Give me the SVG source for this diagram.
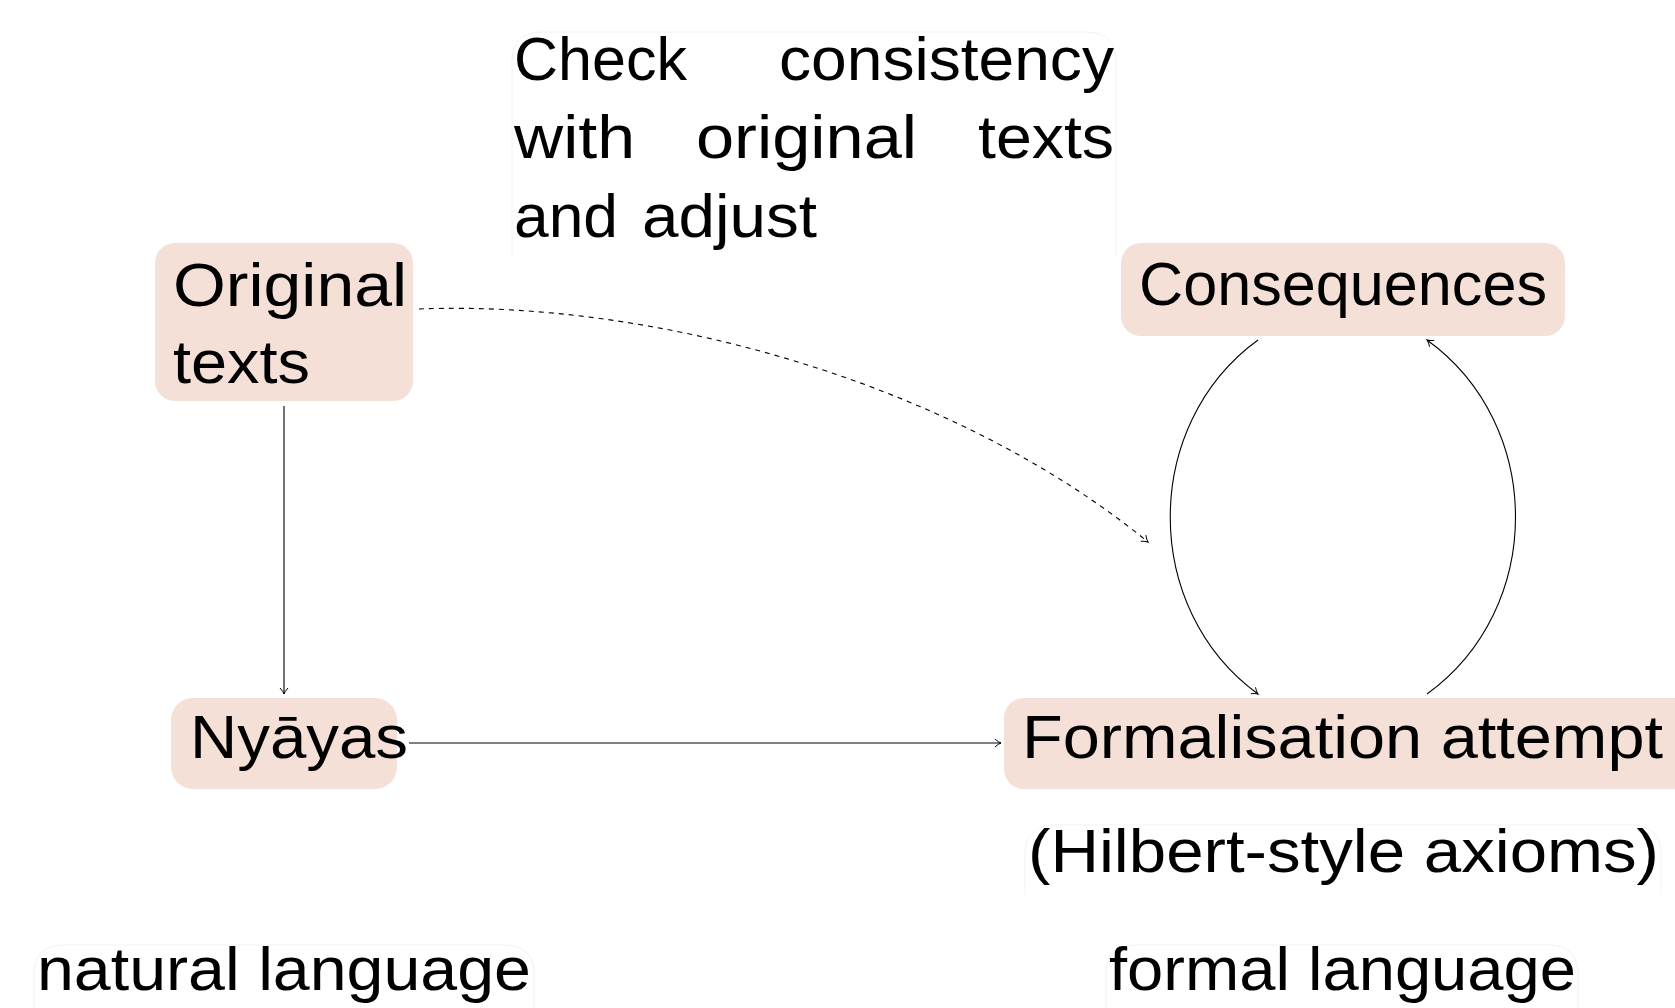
<svg xmlns="http://www.w3.org/2000/svg" width="1675" height="1008" viewBox="0 0 1675 1008">
<style>
  .box { fill: #f5e0d7; }
  .faint { fill: none; stroke: #f2f2f2; stroke-width: 1; }
  .t { font-family: "Liberation Sans", Arial, sans-serif; font-size: 62px; fill: #000; }
  .edge { fill: none; stroke: #000; stroke-width: 1.1; }
  .dash { stroke-dasharray: 5 5; }
</style>
<defs>
  <marker id="arr" markerUnits="userSpaceOnUse" markerWidth="14" markerHeight="14" viewBox="-7 -7 14 14" refX="0" refY="0" orient="auto">
    <path d="M-6,-4 Q-2.5,-0.7 0,0 Q-2.5,0.7 -6,4" fill="none" stroke="#000" stroke-width="1"/>
  </marker>
</defs>
<rect width="1675" height="1008" fill="#fff"/>

<g id="check-note">
  <path class="faint" d="M512,256 L512,62 Q512,32 542,32 L1086,32 Q1116,32 1116,62 L1116,256"/>
  <text class="t" x="514" y="80" textLength="173" lengthAdjust="spacingAndGlyphs">Check</text>
  <text class="t" x="779" y="80" textLength="335" lengthAdjust="spacingAndGlyphs">consistency</text>
  <text class="t" x="514" y="158" textLength="121" lengthAdjust="spacingAndGlyphs">with</text>
  <text class="t" x="696" y="158" textLength="221" lengthAdjust="spacingAndGlyphs">original</text>
  <text class="t" x="978" y="158" textLength="136" lengthAdjust="spacingAndGlyphs">texts</text>
  <text class="t" x="514" y="237" textLength="104" lengthAdjust="spacingAndGlyphs">and</text>
  <text class="t" x="642" y="237" textLength="175" lengthAdjust="spacingAndGlyphs">adjust</text>
</g>

<g id="original-texts">
  <rect class="box" x="155" y="243" width="258" height="158" rx="20"/>
  <text class="t" x="173" y="306" textLength="234" lengthAdjust="spacingAndGlyphs">Original</text>
  <text class="t" x="173" y="383" textLength="137" lengthAdjust="spacingAndGlyphs">texts</text>
</g>

<g id="consequences">
  <rect class="box" x="1121" y="243" width="444" height="93" rx="20"/>
  <text class="t" x="1139" y="305" textLength="408" lengthAdjust="spacingAndGlyphs">Consequences</text>
</g>

<g id="nyayas">
  <rect class="box" x="171" y="698" width="226" height="91" rx="22"/>
  <text class="t" x="190" y="758" textLength="218" lengthAdjust="spacingAndGlyphs">Nyāyas</text>
</g>

<g id="formalisation">
  <rect class="box" x="1004" y="698" width="690" height="91" rx="20"/>
  <text class="t" x="1022" y="758" textLength="641" lengthAdjust="spacingAndGlyphs">Formalisation attempt</text>
</g>

<g id="hilbert-note">
  <path class="faint" d="M1025,895 L1025,855 Q1025,825 1055,825 L1631,825 Q1661,825 1661,855 L1661,895"/>
  <text class="t" x="1028" y="872" textLength="631" lengthAdjust="spacingAndGlyphs">(Hilbert-style axioms)</text>
</g>

<g id="natural-language">
  <path class="faint" d="M34,1008 L34,975 Q34,945 64,945 L504,945 Q534,945 534,975 L534,1008"/>
  <text class="t" x="37" y="990" textLength="494" lengthAdjust="spacingAndGlyphs">natural language</text>
</g>

<g id="formal-language">
  <path class="faint" d="M1106,1008 L1106,975 Q1106,945 1136,945 L1548,945 Q1578,945 1578,975 L1578,1008"/>
  <text class="t" x="1109" y="990" textLength="467" lengthAdjust="spacingAndGlyphs">formal language</text>
</g>

<g id="connectors">
  <path class="edge" d="M284,406 L284,694" marker-end="url(#arr)"/>
  <path class="edge" d="M409,743 L1001,743" marker-end="url(#arr)"/>
  <path class="edge dash" d="M419,309 C650,300 950,380 1148,542" marker-end="url(#arr)"/>
  <path class="edge" d="M1258,340 C1141,425 1141,609 1258,694" marker-end="url(#arr)"/>
  <path class="edge" d="M1427,694 C1545,609 1545,425 1427,340" marker-end="url(#arr)"/>
</g>
</svg>
